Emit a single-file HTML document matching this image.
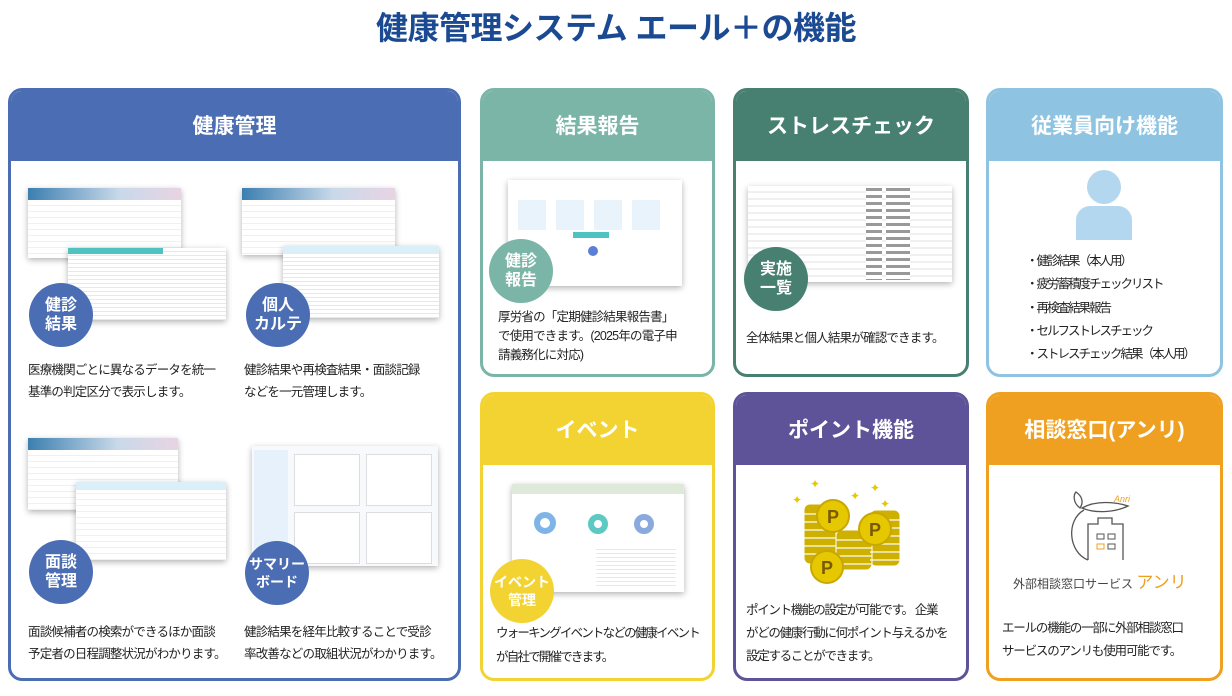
<!DOCTYPE html>
<html><head><meta charset="utf-8">
<style>
*{margin:0;padding:0;box-sizing:border-box}
body{width:1232px;height:696px;background:#fff;position:relative;overflow:hidden;font-family:"Liberation Sans","Noto Sans CJK JP",sans-serif;color:#222}
.abs{position:absolute}
.title{position:absolute;left:0;width:1232px;top:3px;text-align:center;font-size:32px;font-weight:bold;color:#1b4a93;letter-spacing:-0.5px}
.panel{position:absolute;border:3px solid;border-radius:14px;overflow:hidden;background:#fff}
.ph{height:70px;color:#fff;font-weight:bold;font-size:21px;text-align:center;line-height:72px}
.txt{position:absolute;font-size:12.5px;line-height:22px;color:#222;white-space:nowrap;letter-spacing:-0.8px}
.circ{position:absolute;width:64px;height:64px;border-radius:50%;color:#fff;font-weight:bold;font-size:16px;line-height:19px;text-align:center;display:flex;align-items:center;justify-content:center}
.shot{position:absolute;background:#fff;box-shadow:0 2px 6px rgba(0,0,0,.3);
 background-image:repeating-linear-gradient(#fff 0 5px,#eef0f3 5px 6px)}
.shot .bar{height:12px;background:linear-gradient(90deg,#3c7fb0,#c9d9ea 60%,#e8d4e3)}
.shot .tb{height:8px;background:#dbeff8}
.li{position:absolute;left:1026px;font-size:12.5px;white-space:nowrap;letter-spacing:-2px}
</style></head><body>
<div class="title">健康管理システム エール＋の機能</div>

<!-- 健康管理 -->
<div class="panel" style="left:8px;top:88px;width:453px;height:593px;border-color:#4b6db3">
 <div class="ph" style="background:#4b6db3">健康管理</div>
</div>
<div class="shot" style="left:28px;top:188px;width:153px;height:70px"><div class="bar"></div></div>
<div class="shot" style="left:68px;top:248px;width:158px;height:72px;background-image:repeating-linear-gradient(#fff 0 3px,#e6e8ec 3px 4px)"><div class="tb" style="background:#4fc3c0;height:6px;width:60%"></div></div>
<div class="circ" style="left:29px;top:283px;background:#4b6db3">健診<br>結果</div>
<div class="txt" style="left:28px;top:359px">医療機関ごとに異なるデータを統一<br>基準の判定区分で表示します。</div>

<div class="shot" style="left:242px;top:188px;width:153px;height:67px"><div class="bar"></div></div>
<div class="shot" style="left:283px;top:246px;width:156px;height:72px;background-image:repeating-linear-gradient(#fff 0 3px,#e6e8ec 3px 4px)"><div class="tb"></div></div>
<div class="circ" style="left:246px;top:283px;background:#4b6db3">個人<br>カルテ</div>
<div class="txt" style="left:244px;top:359px">健診結果や再検査結果・面談記録<br>などを一元管理します。</div>

<div class="shot" style="left:28px;top:438px;width:150px;height:72px"><div class="bar"></div></div>
<div class="shot" style="left:76px;top:482px;width:150px;height:78px"><div class="tb"></div></div>
<div class="circ" style="left:29px;top:540px;background:#4b6db3">面談<br>管理</div>
<div class="txt" style="left:28px;top:621px">面談候補者の検索ができるほか面談<br>予定者の日程調整状況がわかります。</div>

<div class="shot" style="left:252px;top:446px;width:186px;height:120px;background:#f7f9fc"><div class="abs" style="left:2px;top:4px;width:34px;height:110px;background:#e6f1fb"></div><div class="abs" style="left:42px;top:8px;width:66px;height:52px;border:1px solid #ddd;background:#fff"></div><div class="abs" style="left:114px;top:8px;width:66px;height:52px;border:1px solid #ddd;background:#fff"></div><div class="abs" style="left:42px;top:66px;width:66px;height:52px;border:1px solid #ddd;background:#fff"></div><div class="abs" style="left:114px;top:66px;width:66px;height:52px;border:1px solid #ddd;background:#fff"></div></div>
<div class="circ" style="left:245px;top:541px;background:#4b6db3;font-size:14px;line-height:18px">サマリー<br>ボード</div>
<div class="txt" style="left:244px;top:621px">健診結果を経年比較することで受診<br>率改善などの取組状況がわかります。</div>

<!-- 結果報告 -->
<div class="panel" style="left:480px;top:88px;width:235px;height:289px;border-color:#7ab5a8">
 <div class="ph" style="background:#7ab5a8">結果報告</div>
</div>
<div class="shot" style="left:508px;top:180px;width:174px;height:106px;background-image:none"><div class="abs" style="left:10px;top:20px;width:150px;height:30px;background:repeating-linear-gradient(90deg,#e8f3fb 0 28px,#fff 28px 38px)"></div><div class="abs" style="left:65px;top:52px;width:36px;height:6px;background:#4fc3c0"></div><div class="abs" style="left:80px;top:66px;width:10px;height:10px;border-radius:50%;background:#5b7fd6"></div></div>
<div class="circ" style="left:489px;top:239px;background:#7ab5a8">健診<br>報告</div>
<div class="txt" style="left:498px;top:308px;line-height:19px">厚労省の「定期健診結果報告書」<br>で使用できます。(2025年の電子申<br>請義務化に対応)</div>

<!-- ストレスチェック -->
<div class="panel" style="left:733px;top:88px;width:236px;height:289px;border-color:#477f70">
 <div class="ph" style="background:#477f70">ストレスチェック</div>
</div>
<div class="shot" style="left:748px;top:186px;width:204px;height:96px;background-image:repeating-linear-gradient(#fff 0 5px,#f0f0f0 5px 7px)"><div class="abs" style="left:118px;top:2px;width:16px;height:92px;background:repeating-linear-gradient(#999 0 3px,#fff 3px 7px)"></div><div class="abs" style="left:138px;top:2px;width:24px;height:92px;background:repeating-linear-gradient(#999 0 3px,#fff 3px 7px)"></div></div>
<div class="circ" style="left:744px;top:247px;background:#477f70">実施<br>一覧</div>
<div class="txt" style="left:746px;top:327px">全体結果と個人結果が確認できます。</div>

<!-- 従業員向け機能 -->
<div class="panel" style="left:986px;top:88px;width:237px;height:289px;border-color:#8ec4e2">
 <div class="ph" style="background:#8ec4e2">従業員向け機能</div>
</div>
<div class="abs" style="left:1087px;top:170px;width:34px;height:34px;border-radius:50%;background:#b3d7ef"></div>
<div class="abs" style="left:1076px;top:206px;width:56px;height:34px;border-radius:14px 14px 0 0;background:#b3d7ef"></div>
<div class="li" style="top:250px">・健診結果（本人用）</div>
<div class="li" style="top:273px">・疲労蓄積度チェックリスト</div>
<div class="li" style="top:297px">・再検査結果報告</div>
<div class="li" style="top:320px">・セルフストレスチェック</div>
<div class="li" style="top:343px">・ストレスチェック結果（本人用）</div>

<!-- イベント -->
<div class="panel" style="left:480px;top:392px;width:235px;height:289px;border-color:#f3d332">
 <div class="ph" style="background:#f3d332">イベント</div>
</div>
<div class="shot" style="left:512px;top:484px;width:172px;height:108px;background-image:none"><div class="abs" style="left:0;top:0;width:172px;height:10px;background:#dfe9d9"></div><div class="abs" style="left:22px;top:28px;width:22px;height:22px;border-radius:50%;border:6px solid #7fb5e6"></div><div class="abs" style="left:76px;top:30px;width:20px;height:20px;border-radius:50%;border:6px solid #5cc9c3"></div><div class="abs" style="left:122px;top:30px;width:20px;height:20px;border-radius:50%;border:6px solid #8aa9dc"></div><div class="abs" style="left:84px;top:62px;width:80px;height:40px;background:repeating-linear-gradient(#fff 0 3px,#e6e8ec 3px 4px)"></div></div>
<div class="circ" style="left:490px;top:559px;background:#f3d332;font-size:14px;line-height:18px">イベント<br>管理</div>
<div class="txt" style="left:496px;top:621px;line-height:24px;letter-spacing:-1.8px">ウォーキングイベントなどの健康イベント<br>が自社で開催できます。</div>

<!-- ポイント機能 -->
<div class="panel" style="left:733px;top:392px;width:236px;height:289px;border-color:#5e5298">
 <div class="ph" style="background:#5e5298">ポイント機能</div>
</div>
<svg class="abs" style="left:790px;top:470px" width="120" height="120" viewBox="0 0 120 120">
 <g stroke="#fff" stroke-width="1">
  <rect x="14" y="34" width="32" height="60" rx="6" fill="#cdb000"/>
  <rect x="80" y="40" width="30" height="56" rx="6" fill="#cdb000"/>
  <rect x="46" y="60" width="36" height="40" rx="6" fill="#cdb000"/>
 </g>
 <g stroke="#fff" stroke-width="1.5" opacity=".8">
  <path d="M14 44h32M14 52h32M14 60h32M14 68h32M14 76h32M14 84h32M80 50h30M80 58h30M80 66h30M80 74h30M80 82h30M80 90h30M46 70h36M46 78h36M46 86h36M46 94h36"/>
 </g>
 <g fill="#e6c800" stroke="#c9a700" stroke-width="2">
  <circle cx="43" cy="46" r="16"/><circle cx="85" cy="59" r="16"/><circle cx="37" cy="97" r="16"/>
 </g>
 <g fill="#7a5a00" font-family="Liberation Sans" font-weight="bold" font-size="18" text-anchor="middle">
  <text x="43" y="53">P</text><text x="85" y="66">P</text><text x="37" y="104">P</text>
 </g>
 <g fill="#e6c800" font-size="12" font-family="DejaVu Sans"><text x="20" y="18">✦</text><text x="2" y="34">✦</text><text x="60" y="30">✦</text><text x="80" y="22">✦</text><text x="90" y="38">✦</text></g>
</svg>
<div class="txt" style="left:746px;top:599px;line-height:23px;letter-spacing:-1.3px">ポイント機能の設定が可能です。 企業<br>がどの健康行動に何ポイント与えるかを<br>設定することができます。</div>

<!-- 相談窓口 -->
<div class="panel" style="left:986px;top:392px;width:237px;height:289px;border-color:#f0a020">
 <div class="ph" style="background:#f0a020">相談窓口(アンリ)</div>
</div>
<svg class="abs" style="left:1066px;top:490px" width="90" height="75" viewBox="0 0 90 75">
 <path d="M18 20 C0 30 2 62 22 70" fill="none" stroke="#555" stroke-width="1.3"/>
 <path d="M16 18 C30 10 50 12 62 16 C50 22 30 24 16 18Z" fill="none" stroke="#555" stroke-width="1.3"/>
 <path d="M14 18 C6 12 8 4 10 2 C16 6 18 12 14 18Z" fill="none" stroke="#555" stroke-width="1.3"/>
 <path d="M22 70 V34 H32 V28 H46 V34 H57 V70" fill="none" stroke="#555" stroke-width="1.3"/>
 <rect x="31" y="44" width="7" height="5" fill="none" stroke="#555"/><rect x="42" y="44" width="7" height="5" fill="none" stroke="#555"/>
 <rect x="31" y="54" width="7" height="5" fill="none" stroke="#f0a020"/><rect x="42" y="54" width="7" height="5" fill="none" stroke="#555"/>
 <text x="48" y="12" font-size="9" fill="#f0a020" font-family="Liberation Sans" font-style="italic">Anri</text>
</svg>
<div class="abs" style="left:1013px;top:568px;font-size:12px;color:#444;white-space:nowrap">外部相談窓口サービス <span style="color:#f0a020;font-size:17px">アンリ</span></div>
<div class="txt" style="left:1002px;top:617px;line-height:23px;letter-spacing:-1.2px">エールの機能の一部に外部相談窓口<br>サービスのアンリも使用可能です。</div>
</body></html>
